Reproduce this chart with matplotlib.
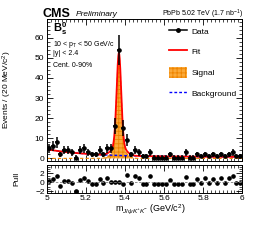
import numpy as np
import matplotlib
matplotlib.use("Agg")
import matplotlib.pyplot as plt
from matplotlib.lines import Line2D
from matplotlib.patches import Patch

plt.rcParams['font.family'] = ['Liberation Sans', 'DejaVu Sans']
plt.rcParams['mathtext.fontset'] = 'custom'
plt.rcParams['mathtext.rm'] = 'Liberation Sans'
plt.rcParams['mathtext.it'] = 'Liberation Sans:italic'
plt.rcParams['mathtext.bf'] = 'Liberation Sans:bold'
plt.rcParams['hatch.linewidth'] = 0.6

# 20 MeV bins from 5.0 to 6.0 GeV
bin_edges = np.linspace(5.0, 6.0, 51)
bin_centers = 0.5 * (bin_edges[:-1] + bin_edges[1:])

# events per bin
counts = [5, 6, 8, 2, 4, 4, 3, 0, 4, 5, 3, 2, 2, 4, 2, 5, 5, 16, 54, 15,
          9, 2, 4, 3, 1, 1, 3, 0, 0, 0, 0, 2, 0, 0, 0, 3, 0, 0, 2, 1,
          2, 1, 2, 1, 2, 1, 2, 3, 1, 1]

# pulls per bin
pulls = [0.3, 0.75, 1.5, -0.8, 0.2, 0.2, -0.15, -2.0, 0.4, 1.0,
         0.2, -0.3, -0.3, 0.75, -0.2, 1.0, 0.05, 0.05, 0.05, -0.5,
         1.7, -0.1, 1.3, 0.9, -0.5, -0.5, 1.4, -0.45, -0.45, -0.45,
         -0.45, 0.45, -0.3, -0.3, -0.3, 1.2, -0.3, -0.3, 0.65, -0.2,
         0.9, -0.2, 0.75, -0.1, 0.85, -0.1, 0.85, 1.5, -0.1, -0.1]

# fit parameters (events per bin)
sig_mean = 5.369
sig_amp1, sig_width1 = 45.2, 0.0115
sig_amp2, sig_width2 = 5.8, 0.030
bkg_amp, bkg_slope, bkg_const = 3.8, 4.5, 0.75

counts = np.array(counts, dtype=float)
err_lo = np.sqrt(counts)
err_hi = np.where(counts > 0, np.sqrt(counts), 1.84)

xf = np.linspace(5.0, 6.0, 1001)
sig = (sig_amp1 * np.exp(-0.5 * ((xf - sig_mean) / sig_width1) ** 2)
       + sig_amp2 * np.exp(-0.5 * ((xf - sig_mean) / sig_width2) ** 2))
bkg = bkg_amp * np.exp(-bkg_slope * (xf - 5.0)) + bkg_const
tot = sig + bkg

fig = plt.figure(figsize=(2.54, 2.44), dpi=100)
ax = fig.add_axes([0.184, 0.340, 0.770, 0.582])
axp = fig.add_axes([0.184, 0.209, 0.770, 0.115])

orange = '#fbaa3a'
ax.fill_between(xf, 0, sig, facecolor=orange, edgecolor='#ee8400',
                hatch='++++', linewidth=0)
ax.plot(xf, sig, color='#ee8400', lw=0.8, ls=(0, (3, 2)))
ax.plot(xf, bkg, color='blue', lw=1.0, ls=(0, (2, 1.5)))
ax.plot(xf, tot, color='red', lw=1.3)
ax.errorbar(bin_centers, counts, yerr=[err_lo, err_hi], xerr=0.01,
            fmt='o', color='black', ms=2.3, elinewidth=1.1, capsize=0)

ax.set_xlim(5, 6)
ax.set_ylim(-1.3, 69.3)
ax.set_yticks([0, 10, 20, 30, 40, 50, 60])
ax.set_yticks(np.arange(0, 70, 2), minor=True)
ax.set_xticks(np.arange(5, 6.01, 0.2))
ax.set_xticks(np.arange(5, 6.001, 0.02), minor=True)
ax.tick_params(which='both', direction='in', top=True, right=True,
               labelsize=6, pad=2, labelbottom=False)
ax.tick_params(which='major', length=4, width=0.6)
ax.tick_params(which='minor', length=2, width=0.5)
ax.set_ylabel('Events / (20 MeV/c$^2$)', fontsize=6)
ax.yaxis.set_label_coords(-0.165, 0.5)

handles = [Line2D([], [], color='black', marker='o', ms=2.5, lw=1.1),
           Line2D([], [], color='red', lw=1.3),
           Patch(facecolor=orange, edgecolor='#ee8400', hatch='++++', lw=0),
           Line2D([], [], color='blue', lw=1.0, ls=(0, (2, 1.5)))]
ax.legend(handles, ['Data', 'Fit', 'Signal', 'Background'], loc='upper right',
          bbox_to_anchor=(1.0, 0.995), frameon=False, fontsize=6,
          handlelength=2.2, handleheight=1.6, labelspacing=1.2,
          handletextpad=0.5, borderaxespad=0.3)

ax.text(0.032, 0.908, r'$\mathbf{B_s^0}$', transform=ax.transAxes, fontsize=8)
ax.text(0.032, 0.81, r'10 < p$_{\rm T}$ < 50 GeV/c', transform=ax.transAxes, fontsize=5)
ax.text(0.032, 0.746, '|y| < 2.4', transform=ax.transAxes, fontsize=5)
ax.text(0.032, 0.664, 'Cent. 0-90%', transform=ax.transAxes, fontsize=5)

fig.text(0.169, 0.932, 'CMS', fontsize=9, fontweight='bold')
fig.text(0.300, 0.934, 'Preliminary', fontsize=6, style='italic')
fig.text(0.957, 0.934, r'PbPb 5.02 TeV (1.7 nb$^{-1}$)', fontsize=5, ha='right')

axp.plot(bin_centers, pulls, 'o', color='black', ms=2.3)
axp.axhline(0, color='gray', lw=0.6, ls=(0, (3, 2)))
axp.set_xlim(5, 6)
axp.set_ylim(-2.45, 3.9)
axp.set_yticks([-2, 0, 2])
axp.set_yticks(np.arange(-2, 3.6, 0.5), minor=True)
axp.set_xticks(np.arange(5, 6.01, 0.2))
axp.set_xticks(np.arange(5, 6.001, 0.02), minor=True)
axp.set_xticklabels(['5', '5.2', '5.4', '5.6', '5.8', '6'])
axp.tick_params(which='both', direction='in', top=True, right=True,
                labelsize=6, pad=1.5)
axp.tick_params(which='major', length=4, width=0.6)
axp.tick_params(which='minor', length=2, width=0.5)
axp.set_ylabel('Pull', fontsize=6)
axp.yaxis.set_label_coords(-0.137, 0.5)
axp.set_xlabel(r'm$_{J/\psi K^{+}K^{-}}$ (GeV/c$^2$)', fontsize=6.5)
axp.xaxis.set_label_coords(0.53, -0.32)

for a in (ax, axp):
    for s in a.spines.values():
        s.set_linewidth(0.7)

fig.savefig('out.png', dpi=100)
